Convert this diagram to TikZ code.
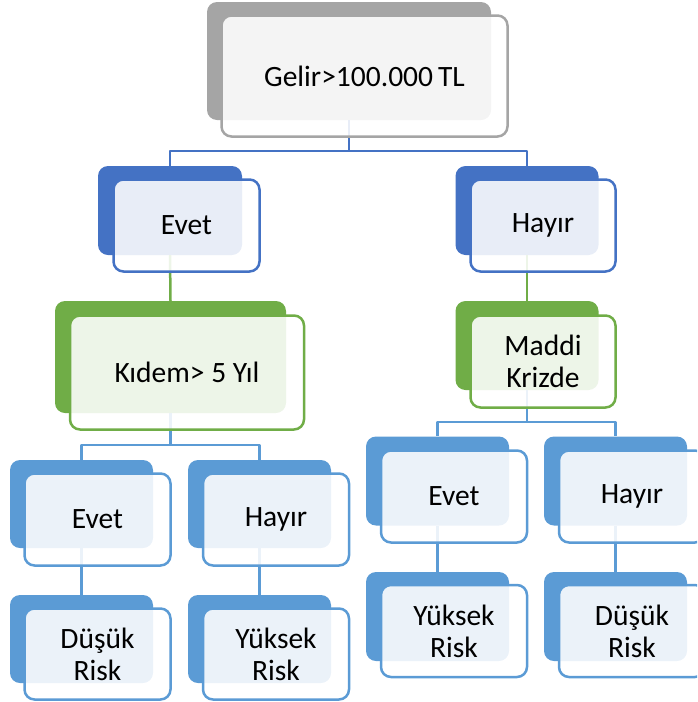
\documentclass[tikz,border=0pt]{standalone}
\usepackage{fontspec}
\setmainfont{Carlito}
\usetikzlibrary{positioning}

\definecolor{cgray}{HTML}{A5A5A5}
\definecolor{cblue}{HTML}{4472C4}
\definecolor{cgreen}{HTML}{70AD47}
\definecolor{clight}{HTML}{5B9BD5}

\begin{document}
\begin{tikzpicture}[line cap=round,line join=round,x=1pt,y=-1pt,
  back/.style={rectangle, rounded corners=10pt, inner sep=0pt, fill=#1},
  front/.style={rectangle, rounded corners=10pt, inner sep=0pt, draw=#1, line width=2.5pt,
    fill=white, fill opacity=0.88, text opacity=1, align=center,
    font=\fontsize{29.5}{32}\selectfont},
  link/.style={draw=#1, line width=2.5pt, line cap=butt}]
\useasboundingbox (0,0) rectangle (697,702);
\clip (0,0) rectangle (697,702);

\coordinate (busA) at (0, 151);
\coordinate (busB) at (0, 445);
\coordinate (busC) at (0, 422);

% back boxes
\node[back=cgray, minimum width=284pt, minimum height=118pt] (gelirB) at (349, 61) {};

\node[back=cblue, minimum width=144pt, minimum height=89pt] (evetB) at (170, 210.5) {};
\node[back=cblue, minimum width=143pt, minimum height=89pt] (hayirB) at (527, 210.5) {};

\node[back=cgreen, minimum width=231pt, minimum height=112pt] (kidemB) at (170.5, 357) {};
\node[back=cgreen, minimum width=143pt, minimum height=89pt] (maddiB) at (527, 345.5) {};

\node[back=clight, minimum width=143pt, minimum height=88pt] (kevetB) at (81.5, 504) {};
\node[back=clight, minimum width=143pt, minimum height=88pt] (khayirB) at (259.5, 504) {};
\node[back=clight, minimum width=143pt, minimum height=88pt] (kdusukB) at (81.5, 639) {};
\node[back=clight, minimum width=143pt, minimum height=88pt] (kyuksekB) at (259.5, 639) {};

\node[back=clight, minimum width=143pt, minimum height=89pt] (mevetB) at (437.5, 481) {};
\node[back=clight, minimum width=143pt, minimum height=89pt] (mhayirB) at (615.5, 481) {};
\node[back=clight, minimum width=143pt, minimum height=89pt] (myuksekB) at (437.5, 616.5) {};
\node[back=clight, minimum width=143pt, minimum height=89pt] (mdusukB) at (615.5, 616.5) {};

% connectors
\draw[link=cblue] (gelirB.south) -- (gelirB.south |- busA) -| (evetB.north);
\draw[link=cblue] (gelirB.south |- busA) -| (hayirB.north);
\draw[link=cgreen] (evetB.south) -- (kidemB.north);
\draw[link=cgreen] (hayirB.south) -- (maddiB.north);
\draw[link=clight] (kidemB.south) -- (kidemB.south |- busB) -| (kevetB.north);
\draw[link=clight] (kidemB.south |- busB) -| (khayirB.north);
\draw[link=clight] (maddiB.south) -- (maddiB.south |- busC) -| (mevetB.north);
\draw[link=clight] (maddiB.south |- busC) -| (mhayirB.north);
\draw[link=clight] (kevetB.south) -- (kdusukB.north);
\draw[link=clight] (khayirB.south) -- (kyuksekB.north);
\draw[link=clight] (mevetB.south) -- (myuksekB.north);
\draw[link=clight] (mhayirB.south) -- (mdusukB.north);

% front boxes
\node[front=cgray, minimum width=286pt, minimum height=121pt] (gelir) at (364.5, 76) {Gelir>100.000\,TL};

\node[front=cblue, minimum width=146pt, minimum height=92pt] (evet) at (186.5, 225.5) {Evet};
\node[front=cblue, minimum width=145pt, minimum height=92pt] (hayir) at (543, 225.5) {Hayır};

\node[front=cgreen, minimum width=234pt, minimum height=114pt] (kidem) at (187, 372.5) {Kıdem> 5 Yıl};
\node[front=cgreen, minimum width=145pt, minimum height=92pt] (maddi) at (543, 361.5) {Maddi\\Krizde};

\node[front=clight, minimum width=146pt, minimum height=92pt] (kevet) at (97.5, 519.5) {Evet};
\node[front=clight, minimum width=146pt, minimum height=92pt] (khayir) at (276, 519.5) {Hayır};
\node[front=clight, minimum width=146pt, minimum height=91pt] (kdusuk) at (97.5, 654) {Düşük\\Risk};
\node[front=clight, minimum width=146pt, minimum height=91pt] (kyuksek) at (276, 654) {Yüksek\\Risk};

\node[front=clight, minimum width=146pt, minimum height=92pt] (mevet) at (454, 496.5) {Evet};
\node[front=clight, minimum width=146pt, minimum height=92pt] (mhayir) at (632, 496.5) {Hayır};
\node[front=clight, minimum width=146pt, minimum height=92pt] (myuksek) at (454, 631) {Yüksek\\Risk};
\node[front=clight, minimum width=146pt, minimum height=92pt] (mdusuk) at (632, 631) {Düşük\\Risk};

\end{tikzpicture}
\end{document}
